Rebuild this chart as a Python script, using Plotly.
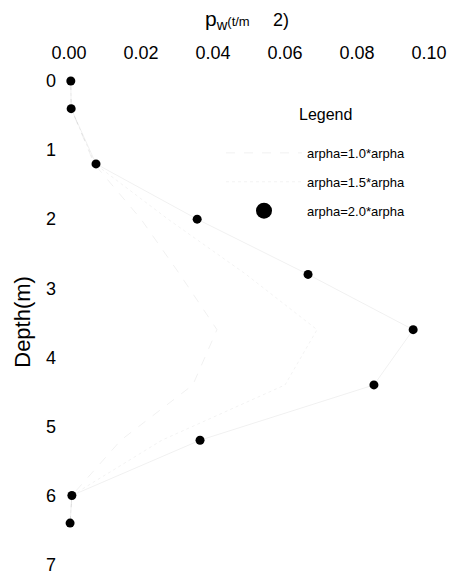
import plotly.graph_objects as go

# Depth of each measuring point (m)
depth = [0.0, 0.4, 1.2, 2.0, 2.8, 3.6, 4.4, 5.2, 6.0, 6.4]

# Pore-water pressure p_w (t/m^2) for the three arpha multipliers
pw_10 = [0.0005, 0.0006, 0.0070, 0.0200, 0.0308, 0.0411, 0.0344, 0.0144, 0.0008, 0.0003]
pw_15 = [0.0005, 0.0006, 0.0072, 0.0275, 0.0492, 0.0689, 0.0600, 0.0258, 0.0008, 0.0003]
pw_20 = [0.0005, 0.0006, 0.0075, 0.0356, 0.0664, 0.0956, 0.0847, 0.0364, 0.0008, 0.0003]

series_names = ["arpha=1.0*arpha", "arpha=1.5*arpha", "arpha=2.0*arpha"]
x_ticks = [0.00, 0.02, 0.04, 0.06, 0.08, 0.10]
y_ticks = [0, 1, 2, 3, 4, 5, 6, 7]

TICK_FONT = dict(family="Liberation Sans Narrow, Liberation Sans, Arial", size=18, color="#000")
TEXT_FONT = dict(family="Liberation Sans, Arial", color="#000")

fig = go.Figure()

fig.add_trace(go.Scatter(
    x=pw_10, y=depth, name=series_names[0], mode="lines",
    line=dict(color="rgba(0,0,0,0.06)", width=1, dash="dash"),
    legendgroup="a", cliponaxis=False,
))
fig.add_trace(go.Scatter(
    x=pw_15, y=depth, name=series_names[1], mode="lines",
    line=dict(color="rgba(0,0,0,0.05)", width=1, dash="dot"),
    legendgroup="b", cliponaxis=False,
))
fig.add_trace(go.Scatter(
    x=pw_20, y=depth, name=series_names[2], mode="lines+markers",
    line=dict(color="rgba(0,0,0,0.06)", width=1),
    marker=dict(color="#000", size=9),
    showlegend=False, cliponaxis=False,
))
# legend swatch for the third series, drawn with a larger dot
fig.add_trace(go.Scatter(
    x=[None], y=[None], name=series_names[2], mode="markers",
    marker=dict(color="#000", size=17),
    legendgroup="c",
))

fig.update_xaxes(
    side="top", range=[0, 0.1], tickvals=x_ticks,
    ticktext=[f"{v:.2f}" for v in x_ticks],
    showgrid=False, zeroline=False, showline=False, ticks="",
    tickfont=TICK_FONT, ticklabelstandoff=17, ticklabeloverflow="allow",
    automargin=False,
)
fig.update_yaxes(
    range=[7.05, 0], tickvals=y_ticks, ticktext=[str(v) for v in y_ticks],
    showgrid=False, zeroline=False, showline=False, ticks="",
    tickfont=TICK_FONT, ticklabelstandoff=12, ticklabeloverflow="allow",
    automargin=False,
)

fig.add_annotation(
    text="p<sub>w</sub><span style='font-size:13px'>(t/m</span>\u00a0\u00a0\u00a0\u00a0<span style='font-size:18px'>2)</span>",
    xref="paper", yref="paper", x=(247 - 69) / 360, y=1 + (81 - 20) / 487.5,
    showarrow=False, font=dict(size=21, **TEXT_FONT), xanchor="center", yanchor="middle",
)
fig.add_annotation(
    text="Depth(m)", textangle=-90,
    xref="paper", yref="paper", x=(23 - 69) / 360, y=1 - (322 - 81) / 487.5,
    showarrow=False, font=dict(size=22, **TEXT_FONT), xanchor="center", yanchor="middle",
)
fig.add_annotation(
    text="Legend",
    xref="paper", yref="paper", x=(297 - 69) / 360, y=1 - (115 - 81) / 487.5,
    showarrow=False, font=dict(size=16, **TEXT_FONT), xanchor="left", yanchor="middle",
)

fig.update_layout(
    width=452, height=574,
    margin=dict(l=69, r=23, t=81, b=5.5, autoexpand=False),
    paper_bgcolor="white", plot_bgcolor="white",
    legend=dict(
        x=(221 - 69) / 360, y=1 - (138 - 81) / 487.5, xanchor="left", yanchor="top",
        font=dict(size=13, **TEXT_FONT), bgcolor="rgba(0,0,0,0)",
        itemwidth=76, traceorder="grouped", tracegroupgap=9,
    ),
)

fig.write_html("out.html")
